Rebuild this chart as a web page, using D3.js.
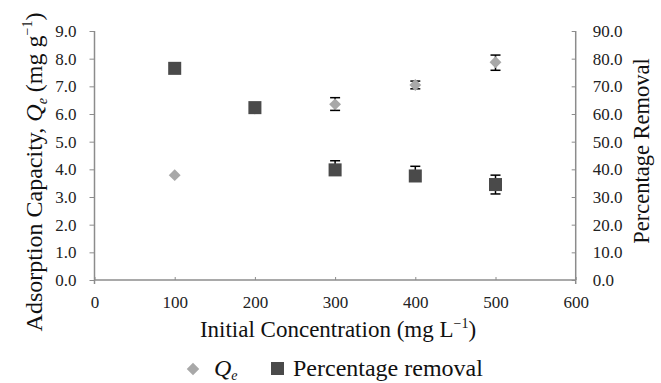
<!DOCTYPE html>
<html><head><meta charset="utf-8">
<script src="https://cdn.jsdelivr.net/npm/d3@7"></script>
<style>
body{margin:0;background:#fff;}
svg{display:block;}
</style></head>
<body>
<svg id="c" width="661" height="383" font-family="Liberation Serif"></svg>
<script>
const concentrations = [100, 200, 300, 400, 500];
const qe = [3.79, 6.2, 6.35, 7.05, 7.87];
const qeErrUp = [0, 0, 0.24, 0.14, 0.26];
const qeErrDown = [0, 0, 0.22, 0.14, 0.29];
const removal = [76.5, 62.3, 39.8, 37.6, 34.5];
const removalErrUp = [0, 0, 3.3, 3.5, 3.4];
const removalErrDown = [0, 0, 0, 0, 3.4];
const xTicks = [0, 100, 200, 300, 400, 500, 600];
const leftTicks = [0, 1, 2, 3, 4, 5, 6, 7, 8, 9];
const rightTicks = [0, 10, 20, 30, 40, 50, 60, 70, 80, 90];

const FONT = "Liberation Serif";
const svg = d3.select("#c");
const L = 94.5, R = 575.7, T = 31, B = 280;
const x = d3.scaleLinear().domain([0, 600]).range([L, R]);
const yL = d3.scaleLinear().domain([0, 9]).range([B, T]);
const yR = d3.scaleLinear().domain([0, 90]).range([B, T]);
const axisCol = "#8c8c8c";

// x axis
const gx = svg.append("g").attr("transform", `translate(0,${B})`)
  .call(d3.axisBottom(x).tickValues(xTicks).tickSize(-3).tickPadding(16).tickFormat(d3.format("d")));
gx.attr("font-family", FONT);
gx.select(".domain").attr("stroke", axisCol).attr("stroke-width", 1.5).attr("d", `M${L},0H${R}`);
gx.selectAll(".tick line").attr("stroke", axisCol);
gx.selectAll(".tick text").attr("font-size", 17).attr("fill", "#222").attr("font-family", FONT);

// left axis
const gl = svg.append("g").attr("transform", `translate(${L},0)`)
  .call(d3.axisLeft(yL).tickValues(leftTicks).tickSize(5).tickPadding(13).tickFormat(d3.format(".1f")));
gl.attr("font-family", FONT);
gl.select(".domain").attr("stroke", axisCol).attr("stroke-width", 1.5).attr("d", `M0,${T}V${B + 4}`);
gl.selectAll(".tick line").attr("stroke", axisCol);
gl.selectAll(".tick text").attr("font-size", 17).attr("fill", "#222").attr("font-family", FONT);

// right axis
const gr = svg.append("g").attr("transform", `translate(${R},0)`)
  .call(d3.axisRight(yR).tickValues(rightTicks).tickSize(-4).tickPadding(17).tickFormat(d3.format(".1f")));
gr.attr("font-family", FONT);
gr.select(".domain").attr("stroke", axisCol).attr("stroke-width", 1.5).attr("d", `M0,${T}V${B + 4}`);
gr.selectAll(".tick line").attr("stroke", axisCol);
gr.selectAll(".tick text").attr("font-size", 17).attr("fill", "#222").attr("font-family", FONT);

// error bars
function errBars(vals, up, down, scale) {
  const g = svg.append("g").attr("stroke", "#000").attr("stroke-width", 1.5);
  concentrations.forEach((c, i) => {
    const cx = x(c);
    if (up[i] > 0) {
      g.append("line").attr("x1", cx).attr("x2", cx).attr("y1", scale(vals[i])).attr("y2", scale(vals[i] + up[i]));
      g.append("line").attr("x1", cx - 5).attr("x2", cx + 5).attr("y1", scale(vals[i] + up[i])).attr("y2", scale(vals[i] + up[i]));
    }
    if (down[i] > 0) {
      g.append("line").attr("x1", cx).attr("x2", cx).attr("y1", scale(vals[i])).attr("y2", scale(vals[i] - down[i]));
      g.append("line").attr("x1", cx - 5).attr("x2", cx + 5).attr("y1", scale(vals[i] - down[i])).attr("y2", scale(vals[i] - down[i]));
    }
  });
}
errBars(qe, qeErrUp, qeErrDown, yL);
errBars(removal, removalErrUp, removalErrDown, yR);

const diamond = d3.symbol().type(d3.symbolDiamond2).size(90);
const square = d3.symbol().type(d3.symbolSquare).size(170);

svg.append("g").selectAll("path").data(concentrations).join("path")
  .attr("d", diamond)
  .attr("transform", (d, i) => `translate(${x(d)},${yL(qe[i])})`)
  .attr("fill", "#a8a8a8");

svg.append("g").selectAll("path").data(concentrations).join("path")
  .attr("d", square)
  .attr("transform", (d, i) => `translate(${x(d)},${yR(removal[i])})`)
  .attr("fill", "#4a4a4a");

// x title
const xt = svg.append("text").attr("x", 338).attr("y", 337).attr("text-anchor", "middle")
  .attr("font-family", FONT).attr("font-size", 23).attr("fill", "#111");
xt.append("tspan").text("Initial Concentration (mg L");
xt.append("tspan").attr("font-size", 14).attr("dy", -9).text("\u22121");
xt.append("tspan").attr("dy", 9).text(")");

// left title
const yt = svg.append("text").attr("transform", `translate(42,172) rotate(-90)`).attr("text-anchor", "middle")
  .attr("font-family", FONT).attr("font-size", 24).attr("fill", "#111");
yt.append("tspan").text("Adsorption Capacity, ");
yt.append("tspan").attr("font-style", "italic").text("Q");
yt.append("tspan").attr("font-style", "italic").attr("font-size", 14).attr("dy", 5).text("e");
yt.append("tspan").attr("dy", -5).text(" (mg g");
yt.append("tspan").attr("font-size", 14).attr("dy", -10).text("\u22121");
yt.append("tspan").attr("dy", 10).text(")");

// right title
svg.append("text").attr("transform", `translate(649,151) rotate(-90)`).attr("text-anchor", "middle")
  .attr("font-family", FONT).attr("font-size", 22.5).attr("fill", "#111").text("Percentage Removal");

// legend
const lg = svg.append("g");
lg.append("path").attr("d", d3.symbol().type(d3.symbolDiamond2).size(100)).attr("transform", "translate(193,369)").attr("fill", "#a8a8a8");
const lq = lg.append("text").attr("x", 214).attr("y", 376).attr("font-family", FONT).attr("font-size", 24).attr("fill", "#111");
lq.append("tspan").attr("font-style", "italic").text("Q");
lq.append("tspan").attr("font-style", "italic").attr("font-size", 14).attr("dy", 4).text("e");
lg.append("rect").attr("x", 271).attr("y", 362).attr("width", 13).attr("height", 13).attr("fill", "#4a4a4a");
lg.append("text").attr("x", 293).attr("y", 376).attr("font-family", FONT).attr("font-size", 24).attr("fill", "#111").text("Percentage removal");
</script>
</body></html>
